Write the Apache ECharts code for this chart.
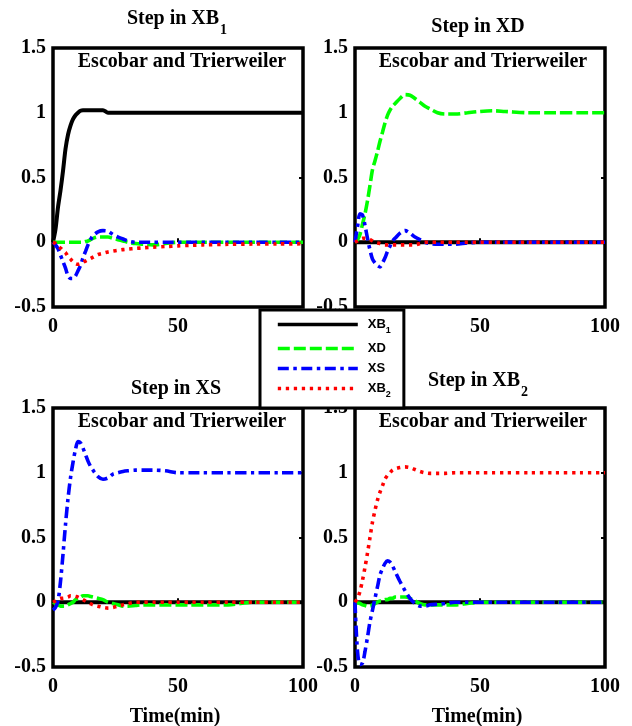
<!DOCTYPE html>
<html>
<head>
<meta charset="utf-8">
<script src="https://cdn.jsdelivr.net/npm/echarts@6/dist/echarts.min.js"></script>
<style>html,body{margin:0;padding:0;background:#fff;}#c{width:632px;height:726px;}</style>
</head>
<body>
<div id="c"></div>
<script>
// Common time samples (min)
const T = [0,1,2,3,4,5,6,7,8,9,10,11,12,13,14,15,16,18,20,22,24,26,28,30,33,36,40,45,50,55,60,70,80,90,100];

// Panel 1: Step in XB1
const p1XB1 = [0,0.1,0.27,0.4,0.55,0.72,0.83,0.9,0.95,0.98,1.0,1.015,1.02,1.02,1.02,1.02,1.02,1.02,1.02,1.0,1,1,1,1,1,1,1,1,1,1,1,1,1,1,1];
const p1XD  = [0,0,0,0,0,0,0,0,0,0,0,0,0,0.005,0.01,0.02,0.03,0.04,0.04,0.04,0.03,0.02,0.01,0,-0.01,-0.015,-0.02,-0.01,0,0,0,0,0,0,0];
const p1XS  = [0,-0.02,-0.05,-0.1,-0.15,-0.2,-0.26,-0.28,-0.28,-0.26,-0.22,-0.18,-0.12,-0.07,-0.02,0.02,0.05,0.08,0.09,0.085,0.06,0.04,0.025,0.01,0,0,0,0,0,0,0,0,0,0,0];
const p1XB2 = [0,-0.01,-0.03,-0.045,-0.065,-0.08,-0.11,-0.13,-0.15,-0.165,-0.17,-0.165,-0.155,-0.145,-0.135,-0.125,-0.115,-0.095,-0.085,-0.075,-0.068,-0.062,-0.057,-0.053,-0.048,-0.043,-0.038,-0.033,-0.028,-0.024,-0.02,-0.016,-0.014,-0.013,-0.012];

// Panel 2: Step in XD
const p2XB1 = [0,0,0,0,0,0,0,0,0,0,0,0,0,0,0,0,0,0,0,0,0,0,0,0,0,0,0,0,0,0,0,0,0,0,0];
const p2XD  = [0,0.02,0.06,0.14,0.22,0.32,0.44,0.56,0.63,0.7,0.78,0.85,0.92,0.98,1.02,1.05,1.07,1.11,1.14,1.135,1.11,1.08,1.05,1.03,1.0,0.99,0.99,1.0,1.01,1.015,1.01,1.0,1.0,1.0,1.0];
const p2XS  = [0,0.12,0.22,0.21,0.13,0.03,-0.06,-0.13,-0.16,-0.18,-0.19,-0.16,-0.12,-0.07,-0.03,0.01,0.03,0.07,0.09,0.07,0.04,0.02,0,-0.01,-0.015,-0.015,-0.015,-0.005,0,0,0,0,0,0,0];
const p2XB2 = [0,0.01,0.02,0.03,0.03,0.025,0.02,0.01,0,-0.005,-0.01,-0.015,-0.02,-0.02,-0.02,-0.02,-0.02,-0.02,-0.02,-0.02,-0.02,-0.01,0,0,0,0,0,0,0,0,0,0,0,0,0];

// Panel 3: Step in XS
const p3XB1 = [0,0,0,0,0,0,0,0,0,0,0,0,0,0,0,0,0,0,0,0,0,0,0,0,0,0,0,0,0,0,0,0,0,0,0];
const p3XD  = [0,-0.01,-0.02,-0.03,-0.03,-0.03,-0.02,-0.01,0,0.02,0.03,0.04,0.05,0.05,0.05,0.045,0.04,0.03,0.02,0,-0.01,-0.02,-0.03,-0.03,-0.025,-0.02,-0.02,-0.02,-0.02,-0.02,-0.02,-0.02,0,0,0];
const p3XS  = [-0.06,-0.04,0.01,0.16,0.37,0.6,0.8,0.96,1.08,1.18,1.24,1.23,1.19,1.14,1.09,1.05,1.02,0.97,0.95,0.96,0.99,1.0,1.01,1.015,1.02,1.02,1.02,1.015,1.0,1.0,1.0,1.0,1.0,1.0,1.0];
const p3XB2 = [0,0.01,0.02,0.03,0.03,0.035,0.04,0.05,0.05,0.045,0.04,0.03,0.02,0.01,0,-0.01,-0.02,-0.03,-0.04,-0.045,-0.04,-0.03,-0.02,-0.01,0,0,0,0,0,0,0,0,0,0,0];

// Panel 4: Step in XB2
const p4XB1 = [0,0,0,0,0,0,0,0,0,0,0,0,0,0,0,0,0,0,0,0,0,0,0,0,0,0,0,0,0,0,0,0,0,0,0];
const p4XD  = [0,-0.005,-0.01,-0.02,-0.025,-0.03,-0.03,-0.02,-0.01,0,0.01,0.01,0.02,0.02,0.03,0.03,0.04,0.04,0.04,0.03,0.01,-0.01,-0.02,-0.02,-0.02,-0.02,-0.02,-0.01,0,0,0,0,0,0,0];
const p4XS  = [0,-0.38,-0.48,-0.47,-0.38,-0.27,-0.15,-0.06,0.03,0.12,0.21,0.26,0.3,0.32,0.31,0.28,0.24,0.16,0.09,0.03,-0.01,-0.03,-0.03,-0.02,-0.015,-0.01,0,0,0,0,0,0,0,0,0];
const p4XB2 = [0,0.03,0.085,0.17,0.27,0.38,0.5,0.62,0.71,0.79,0.85,0.9,0.95,0.98,1.0,1.02,1.03,1.04,1.045,1.04,1.025,1.01,1.0,0.995,0.995,0.995,1.0,1.0,1.0,1.0,1.0,1.0,1.0,1.0,1.0];

const panelTitles = [['Step in XB','1'],['Step in XD',''],['Step in XS',''],['Step in XB','2']];
const xTicks = [0, 50, 100];
const yTicks = [-0.5, 0, 0.5, 1, 1.5];
const seriesNames = ['XB1','XD','XS','XB2'];
const panelData = [
  [p1XB1,p1XD,p1XS,p1XB2],
  [p2XB1,p2XD,p2XS,p2XB2],
  [p3XB1,p3XD,p3XS,p3XB2],
  [p4XB1,p4XD,p4XS,p4XB2]
];

const styles = {
  XB1: {color:'#000000', type:'solid', width:4},
  XD:  {color:'#00ff00', type:[12,4], width:3.6},
  XS:  {color:'#0000ff', type:[11,4.5,3.5,4.5], width:3.6},
  XB2: {color:'#ff0000', type:[3.3,4.7], width:3.6}
};

const grids = [
  {left:53, top:48, width:250, height:259},
  {left:355, top:48, width:250, height:259},
  {left:53, top:408, width:250, height:259},
  {left:355, top:408, width:250, height:259}
];

const serif = 'Liberation Serif, Times New Roman, serif';
const labelStyle = {color:'#000', fontFamily:serif, fontWeight:'bold', fontSize:20};

const xAxes = [], yAxes = [], series = [];
grids.forEach((g, i) => {
  g.show = true; g.borderColor = '#000'; g.borderWidth = 3.5; g.backgroundColor = '#fff';
  xAxes.push({type:'value', gridIndex:i, min:xTicks[0], max:xTicks[xTicks.length-1], interval:50,
    axisLine:{show:false}, splitLine:{show:false},
    axisTick:{show:true, inside:true, length:4, lineStyle:{color:'#000', width:2}},
    axisLabel:Object.assign({margin:10}, labelStyle)});
  yAxes.push({type:'value', gridIndex:i, min:yTicks[0], max:yTicks[yTicks.length-1], interval:0.5,
    axisLine:{show:false}, splitLine:{show:false}, axisTick:{show:false},
    axisLabel:Object.assign({margin:7}, labelStyle)});
  yAxes.push({type:'value', gridIndex:i, position:'right', min:yTicks[0], max:yTicks[yTicks.length-1], interval:0.5,
    axisLine:{show:false}, splitLine:{show:false}, axisLabel:{show:false},
    axisTick:{show:true, inside:true, length:4, lineStyle:{color:'#000', width:2}}});
  panelData[i].forEach((arr, k) => {
    const nm = seriesNames[k];
    series.push({
      name:nm, type:'line', xAxisIndex:i, yAxisIndex:2*i, symbol:'none', smooth:0.3,
      z: 2 + k,
      lineStyle:{color:styles[nm].color, type:styles[nm].type, width:styles[nm].width, cap:'butt'},
      itemStyle:{color:styles[nm].color},
      data:T.map((t, j) => [t, arr[j]])
    });
  });
});

const titleRich = {
  b:{fontFamily:serif, fontWeight:'bold', fontSize:20, color:'#000'},
  s:{fontFamily:serif, fontWeight:'bold', fontSize:14, color:'#000', padding:[23,0,0,1]}
};
const titlePos = [[177,19],[478,27],[176,389],[478,381]];
const innerPos = [[182,62],[483,62],[182,422],[483,422]];
const graphics = [];
panelTitles.forEach((pt, i) => {
  graphics.push({type:'text', x:titlePos[i][0], y:titlePos[i][1], z:100,
    style:{text: pt[1] ? '{b|'+pt[0]+'}{s|'+pt[1]+'}' : '{b|'+pt[0]+'}', rich:titleRich,
      align:'center', verticalAlign:'middle'}});
  graphics.push({type:'text', x:innerPos[i][0], y:innerPos[i][1], z:100,
    style:{text:'Escobar and Trierweiler', fontFamily:serif, fontWeight:'bold', fontSize:20, fill:'#000',
      align:'center', verticalAlign:'middle'}});
});
graphics.push({type:'text', x:175, y:717, style:{text:'Time(min)', fontFamily:serif, fontWeight:'bold', fontSize:20, fill:'#000', align:'center', verticalAlign:'middle'}});
graphics.push({type:'text', x:477, y:717, style:{text:'Time(min)', fontFamily:serif, fontWeight:'bold', fontSize:20, fill:'#000', align:'center', verticalAlign:'middle'}});

const chart = echarts.init(document.getElementById('c'), null, {renderer:'canvas'});
chart.setOption({
  animation:false,
  backgroundColor:'#fff',
  grid:grids, xAxis:xAxes, yAxis:yAxes, series:series,
  graphic:graphics,
  legend:{
    data:seriesNames, left:260, top:310, orient:'vertical', z:50,
    backgroundColor:'#fff', borderColor:'#000', borderWidth:3, borderRadius:0,
    padding:[8,13,9,16], itemGap:7, itemWidth:80, itemHeight:14,
    itemStyle:{color:'rgba(0,0,0,0)', borderWidth:0, opacity:0},
    lineStyle:{width:3.6},
    formatter:function(n){ if(n==='XB1') return '{n|XB}{s|1}'; if(n==='XB2') return '{n|XB}{s|2}'; return '{n|'+n+'}'; },
    textStyle:{color:'#000', rich:{
      n:{fontFamily:'Liberation Sans, Arial, sans-serif', fontWeight:'bold', fontSize:13, color:'#000', padding:[0,0,0,5]},
      s:{fontFamily:'Liberation Sans, Arial, sans-serif', fontWeight:'bold', fontSize:9, color:'#000', padding:[12,0,0,0]}
    }}
  }
});
</script>
</body>
</html>
